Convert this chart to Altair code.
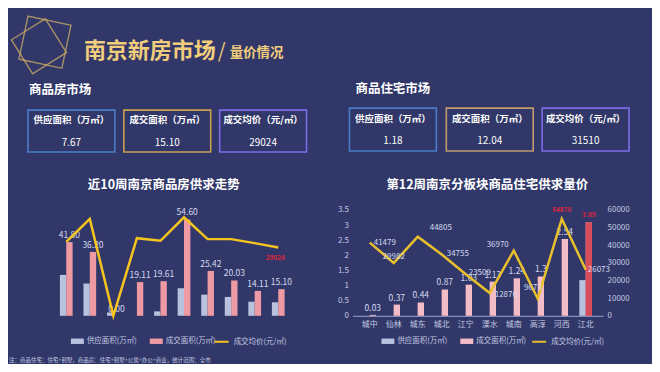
import altair as alt
import pandas as pd

# ---------------- data ----------------
weeks = ["3周", "4周", "5周", "6周", "7周", "8周", "9周", "10周", "11周", "12周"]
week_supply = [23.2, 18.3, 1.9, 0.0, 2.5, 15.6, 12.0, 10.7, 8.0, 7.67]
week_deal = [41.80, 36.20, 0.00, 19.11, 19.61, 54.60, 25.42, 20.03, 14.11, 15.10]
week_price = [31400, 41200, 0, 33000, 31900, 41900, 32600, 32600, 30900, 29024]

districts = ["城中", "仙林", "城东", "城北", "江宁", "溧水", "城南", "高淳", "河西", "江北"]
dist_supply = [0, 0, 0, 0, 0, 0, 0, 0, 0, 1.18]
dist_deal = [0.03, 0.37, 0.44, 0.87, 1.03, 1.13, 1.24, 1.30, 2.54, 3.09]
dist_price = [41479, 29982, 44805, 34755, 23509, 12876, 36970, 9673, 54870, 26073]

kpi_labels = ["供应面积（万㎡）", "成交面积（万㎡）", "成交均价（元/㎡）"]
kpi_all = ["7.67", "15.10", "29024"]
kpi_res = ["1.18", "12.04", "31510"]

series = ["供应面积(万㎡)", "成交面积(万㎡)"]
line_name = "成交均价(元/㎡)"

title_main = "南京新房市场"
title_sub = "量价情况"
sec_left = "商品房市场"
sec_right = "商品住宅市场"
chart1_title = "近10周南京商品房供求走势"
chart2_title = "第12周南京分板块商品住宅供求量价"
note = "注：商品住宅：住宅+别墅，商品房：住宅+别墅+公寓+办公+商业，统计范围：全市"

# ---------------- style ----------------
FONT = "Noto Sans CJK SC"
BG = "#313869"
GOLD = "#f2cd7c"
GOLD_LOGO = "#d9b465"
WHITE = "#ffffff"
LABEL_C = "#c4c9e2"
VAL_C = "#d6daf0"
AXIS_LINE = "#9ea6cc"
C_SUP = "#b8c2de"
C_DEAL1 = "#ee9aa3"
C_DEAL2 = "#f4bcc6"
C_RED = "#d94d5b"
C_LINE1 = "#f5c41f"
C_LINE2 = "#e9bf2c"
TXT_RED = "#e0233c"
BOX_COLORS_L = ["#4a7cc8", "#c9a04f", "#7d6be6"]
BOX_COLORS_R = ["#4a7cc8", "#c49a6c", "#7d6be6"]

OX, OY = 50, 210          # page position of the left plot origin
W1, W2, H = 243, 251, 106
GAP = 59
RECT_PATH = "M-1.2,-0.5H1.2V0.5H-1.2Z"

one = pd.DataFrame({"k": [0]})


def T(s, x, y, size, color, weight="normal", align="center"):
    return alt.Chart(pd.DataFrame({"t": [s]})).mark_text(
        align=align, baseline="middle", fontSize=size, color=color,
        fontWeight=weight, font=FONT
    ).encode(x=alt.value(x - OX), y=alt.value(y - OY), text="t:N")


def xenc(field, order, po):
    return alt.X(f"{field}:N", sort=order, title=None,
                 scale=alt.Scale(paddingInner=0.46, paddingOuter=po),
                 axis=alt.Axis(labelAngle=0, ticks=False, domainColor=AXIS_LINE,
                               domainWidth=1, labelColor=LABEL_C, labelFontSize=8,
                               labelFont=FONT, labelPadding=5, grid=False))


xoff = alt.XOffset("series:N", sort=series,
                   scale=alt.Scale(domain=series, paddingInner=0, paddingOuter=0))


def yenc(field, dom, vals, fmt, orient, pad):
    return alt.Y(f"{field}:Q", title=None,
                 scale=alt.Scale(domain=dom, nice=False, zero=True),
                 axis=alt.Axis(orient=orient, values=vals, format=fmt, grid=False,
                               domain=False, ticks=False, labelColor=LABEL_C,
                               labelFontSize=8, labelFont=FONT, labelPadding=pad))


def bar_legend(lx):
    return alt.Legend(orient="none", legendX=lx, legendY=126, direction="horizontal",
                      title=None, symbolType=RECT_PATH, symbolSize=117,
                      labelFontSize=7.5, labelColor=LABEL_C, labelFont=FONT,
                      columnPadding=12, labelOffset=4, padding=0, symbolStrokeWidth=0)


def line_legend(lx):
    return alt.Legend(orient="none", legendX=lx, legendY=124, direction="horizontal",
                      title=None, symbolType="stroke", symbolSize=196,
                      symbolStrokeWidth=2, labelFontSize=7.5, labelColor=LABEL_C,
                      labelFont=FONT, labelOffset=4, padding=0)


# ---------------- decoration (in left chart coordinates) ----------------
decor = [alt.Chart(one).mark_rect(color=BG).encode(
    x=alt.value(8 - OX), x2=alt.value(652 - OX),
    y=alt.value(8 - OY), y2=alt.value(364 - OY))]

for cx, cy, side, ang in [(44, 42, 44, 12), (38, 46, 40, 328)]:
    decor.append(alt.Chart(one).mark_square(
        filled=False, color=GOLD_LOGO, strokeWidth=1.4, size=side * side, angle=ang
    ).encode(x=alt.value(cx - OX), y=alt.value(cy - OY)))

decor += [
    T(title_main, 83, 51, 22, GOLD, "bold", "left"),
    T("/", 217, 52, 20, GOLD, "normal", "left"),
    T(title_sub, 229, 53, 13.5, GOLD, "bold", "left"),
    T(sec_left, 28, 90, 12.5, WHITE, "bold", "left"),
    T(sec_right, 355, 89, 12.5, WHITE, "bold", "left"),
    T(chart1_title, 163, 185, 12.5, WHITE, "bold"),
    T(chart2_title, 487, 185, 12.5, WHITE, "bold"),
    T(note, 8, 360, 5.5, LABEL_C, "normal", "left"),
]

for i, (x0, col) in enumerate(zip([27, 123, 219], BOX_COLORS_L)):
    decor.append(alt.Chart(one).mark_rect(fillOpacity=0, stroke=col, strokeWidth=1.6).encode(
        x=alt.value(x0 - OX), x2=alt.value(x0 + 87 - OX),
        y=alt.value(110 - OY), y2=alt.value(152 - OY)))
    decor.append(T(kpi_labels[i], x0 + 43.5, 120, 9.5, WHITE, "bold"))
    decor.append(T(kpi_all[i], x0 + 43.5, 143, 10, WHITE, "normal"))

for i, (x0, col) in enumerate(zip([349, 446, 542], BOX_COLORS_R)):
    decor.append(alt.Chart(one).mark_rect(fillOpacity=0, stroke=col, strokeWidth=1.6).encode(
        x=alt.value(x0 - OX), x2=alt.value(x0 + 87 - OX),
        y=alt.value(108 - OY), y2=alt.value(151 - OY)))
    decor.append(T(kpi_labels[i], x0 + 43.5, 118.5, 9.5, WHITE, "bold"))
    decor.append(T(kpi_res[i], x0 + 43.5, 140.5, 10, WHITE, "normal"))

# ---------------- chart 1 ----------------
bars1_df = pd.DataFrame({"week": weeks * 2,
                         "series": [series[0]] * len(weeks) + [series[1]] * len(weeks),
                         "value": week_supply + week_deal})
deal1_df = pd.DataFrame({"week": weeks, "series": series[1], "value": week_deal})
price1_df = pd.DataFrame({"week": weeks, "price": week_price, "lname": line_name})

x1 = xenc("week", weeks, 0.38)
yL1 = yenc("value", [0, 60], [0, 10, 20, 30, 40, 50, 60], ".2f", "left", 5)
yR1 = yenc("price", [0, 45000], list(range(0, 45001, 5000)), "d", "right", 4)

bars1 = alt.Chart(bars1_df).mark_bar().encode(
    x=x1, xOffset=xoff, y=yL1,
    color=alt.Color("series:N", sort=series,
                    scale=alt.Scale(domain=series, range=[C_SUP, C_DEAL1]),
                    legend=bar_legend(21)))
lab1 = alt.Chart(deal1_df).mark_text(
    baseline="middle", dy=-7, fontSize=8.5, color=VAL_C, font=FONT
).encode(x=x1, xOffset=xoff, y=yL1, text=alt.Text("value:Q", format=".2f"))
line1 = alt.Chart(price1_df).mark_line(strokeWidth=2.5).encode(
    x=x1, y=yR1,
    color=alt.Color("lname:N", scale=alt.Scale(domain=[line_name], range=[C_LINE1]),
                    legend=line_legend(163)))
red1 = alt.Chart(price1_df).transform_filter(alt.datum.week == weeks[-1]).mark_text(
    baseline="middle", dy=10, dx=-3, fontSize=6.5, fontWeight="bold", color=TXT_RED, font=FONT
).encode(x=x1, y=yR1, text=alt.Text("price:Q", format="d"))

left = alt.layer(
    *decor,
    alt.layer(bars1, lab1),
    alt.layer(line1, red1),
).resolve_scale(y="independent", color="independent").properties(width=W1, height=H)

# ---------------- chart 2 ----------------
bars2_df = pd.DataFrame({"district": districts * 2,
                         "series": [series[0]] * len(districts) + [series[1]] * len(districts),
                         "value": dist_supply + dist_deal})
deal2_df = pd.DataFrame({"district": districts, "series": series[1], "value": dist_deal,
                         "label": [f"{v:g}" for v in dist_deal]})
price2_df = pd.DataFrame({"district": districts, "price": dist_price, "lname": line_name})

x2 = xenc("district", districts, 0.45)
yL2 = yenc("value", [0, 3.5], [0, 0.5, 1, 1.5, 2, 2.5, 3, 3.5], "~g", "left", 4)
yR2 = yenc("price", [0, 60000], list(range(0, 60001, 10000)), "d", "right", 4)

HL = "江北"
HL_PRICE = "河西"

bars2 = alt.Chart(bars2_df).mark_bar().encode(
    x=x2, xOffset=xoff, y=yL2,
    color=alt.Color("series:N", sort=series,
                    scale=alt.Scale(domain=series, range=[C_SUP, C_DEAL2]),
                    legend=bar_legend(30)))
redbar2 = alt.Chart(deal2_df).transform_filter(alt.datum.district == HL).mark_bar(
    color=C_RED).encode(x=x2, xOffset=xoff, y=yL2)
lab2 = alt.Chart(deal2_df).transform_filter(alt.datum.district != HL).mark_text(
    baseline="middle", dy=-7, fontSize=8.5, color=VAL_C, font=FONT
).encode(x=x2, xOffset=xoff, y=yL2, text="label:N")
lab2r = alt.Chart(deal2_df).transform_filter(alt.datum.district == HL).mark_text(
    baseline="middle", dy=-7, fontSize=6.5, fontWeight="bold", color=TXT_RED, font=FONT
).encode(x=x2, xOffset=xoff, y=yL2, text="label:N")

line2 = alt.Chart(price2_df).mark_line(strokeWidth=2.5).encode(
    x=x2, y=yR2,
    color=alt.Color("lname:N", scale=alt.Scale(domain=[line_name], range=[C_LINE2]),
                    legend=line_legend(179)))

label_style = {
    "城中": ("left", 4, 0), "仙林": ("center", 0, -6), "城东": ("left", 12, -9),
    "城北": ("left", 5, 0), "江宁": ("left", 3, -1), "溧水": ("left", 5, 2),
    "城南": ("right", -5, -6), "高淳": ("center", -5, -11), "江北": ("left", 2, 0),
}
price_labels = []
for d, (al, dx, dy) in label_style.items():
    price_labels.append(
        alt.Chart(price2_df).transform_filter(alt.datum.district == d).mark_text(
            align=al, baseline="middle", dx=dx, dy=dy, fontSize=8, color=VAL_C, font=FONT
        ).encode(x=x2, y=yR2, text=alt.Text("price:Q", format="d")))
price_labels.append(
    alt.Chart(price2_df).transform_filter(alt.datum.district == HL_PRICE).mark_text(
        align="center", baseline="middle", dy=-9, fontSize=6.5, fontWeight="bold",
        color=TXT_RED, font=FONT
    ).encode(x=x2, y=yR2, text=alt.Text("price:Q", format="d")))

right = alt.layer(
    alt.layer(bars2, redbar2, lab2, lab2r),
    alt.layer(line2, *price_labels),
).resolve_scale(y="independent", color="independent").properties(width=W2, height=H)

chart = alt.hconcat(left, right, spacing=GAP, bounds="flush").properties(
    padding=0, background=BG
).configure_view(stroke=None)

chart.save("out.html", embed_options={"renderer": "svg", "actions": False})
